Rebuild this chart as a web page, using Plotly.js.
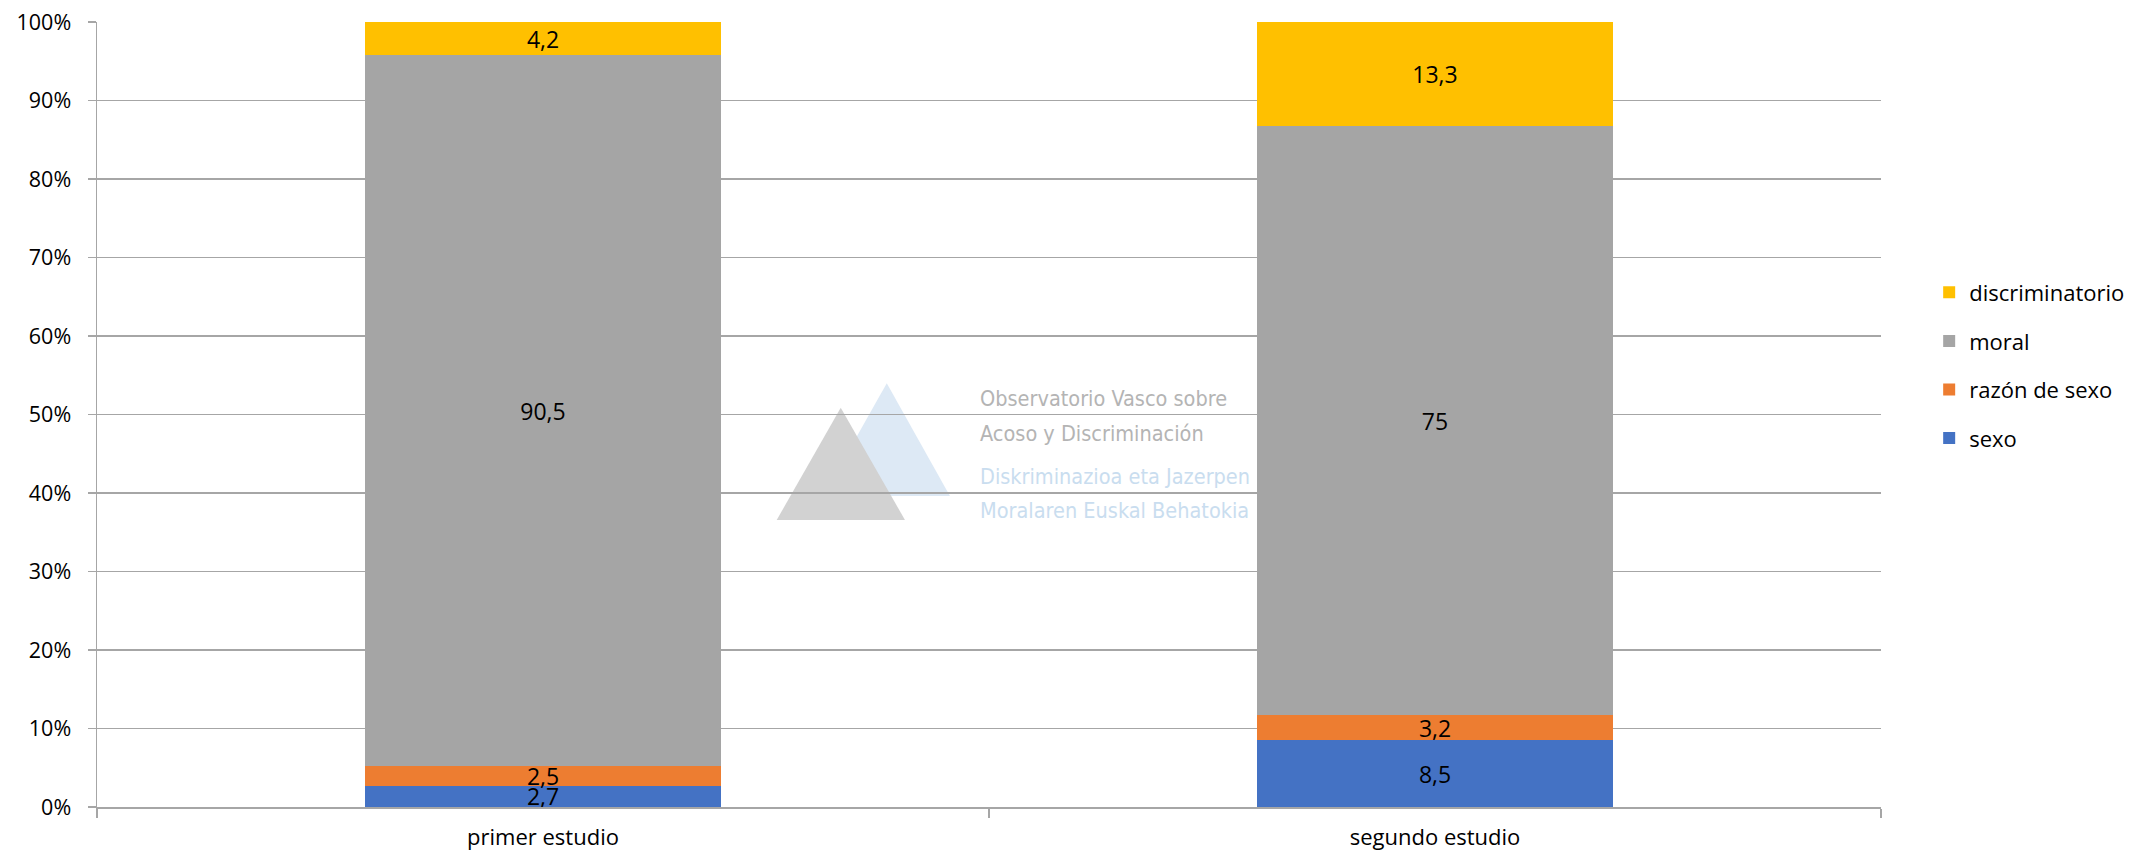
<!DOCTYPE html>
<html>
<head>
<meta charset="utf-8">
<script src="https://cdn.plot.ly/plotly-3.0.1.min.js"></script>
<style>html,body{margin:0;padding:0;background:#fff;}#chart{width:2131px;height:853px;}</style>
</head>
<body>
<div id="chart"></div>
<script>
var categories = ["primer estudio", "segundo estudio"];
var seriesNames = ["sexo", "razón de sexo", "moral", "discriminatorio"];
var sexo = [2.7, 8.5];
var razonDeSexo = [2.5, 3.2];
var moral = [90.5, 75];
var discriminatorio = [4.2, 13.3];
var yTickVals = [0, 10, 20, 30, 40, 50, 60, 70, 80, 90, 100];

var seriesValues = [sexo, razonDeSexo, moral, discriminatorio];
var colors = ["#4472C4", "#ED7D31", "#A5A5A5", "#FFC000"];

function fmt(v) { return String(v).replace(".", ","); }

var font = "'Open Sans', Lato, sans-serif";

var traces = seriesValues.map(function (vals, i) {
  return {
    type: "bar",
    name: seriesNames[i],
    x: categories,
    y: vals,
    text: vals.map(fmt),
    textposition: "inside",
    insidetextanchor: "middle",
    constraintext: "none",
    textangle: 0,
    insidetextfont: { color: "#000", size: 23, family: font },
    textfont: { color: "#000", size: 23, family: font },
    marker: { color: colors[i], line: { width: 0 } },
    legendgroup: "g" + i,
    legendrank: 100 - i,
    hoverinfo: "none"
  };
});

var layout = {
  width: 2131,
  height: 853,
  margin: { l: 97, r: 250, t: 22, b: 46, autoexpand: false },
  paper_bgcolor: "#fff",
  plot_bgcolor: "#fff",
  barmode: "stack",
  barnorm: "percent",
  bargap: 0.6,
  showlegend: true,
  font: { family: font, size: 22, color: "#000" },
  legend: {
    x: 1.027, xanchor: "left",
    y: 0.5624, yanchor: "middle",
    traceorder: "grouped",
    tracegroupgap: 17,
    font: { family: font, size: 22, color: "#000" },
    bgcolor: "rgba(0,0,0,0)"
  },
  xaxis: {
    type: "category",
    showgrid: false,
    showline: true,
    linecolor: "#a6a6a6",
    linewidth: 1.5,
    ticks: "outside",
    tickson: "boundaries",
    ticklen: 9,
    tickcolor: "#a6a6a6",
    tickwidth: 1.5,
    ticklabelstandoff: 10,
    tickfont: { family: font, size: 22, color: "#000" },
    zeroline: false,
    automargin: false
  },
  yaxis: {
    range: [0, 100],
    tickvals: yTickVals,
    ticktext: yTickVals.map(function (v) { return v + "%"; }),
    showgrid: true,
    gridcolor: "#a6a6a6",
    gridwidth: 1.5,
    showline: true,
    linecolor: "#a6a6a6",
    linewidth: 1.5,
    ticks: "outside",
    ticklen: 8,
    tickcolor: "#a6a6a6",
    tickwidth: 1.5,
    ticklabelstandoff: 12,
    tickfont: { family: font, size: 21.5, color: "#000" },
    zeroline: false,
    automargin: false
  },
  shapes: [
    {
      type: "path", xref: "paper", yref: "paper", layer: "below",
      path: "M0.4071,0.3962 L0.4427,0.5397 L0.4781,0.3962 Z",
      fillcolor: "#dde9f5", line: { width: 0 }
    },
    {
      type: "path", xref: "paper", yref: "paper", layer: "below",
      path: "M0.3810,0.3656 L0.4169,0.5087 L0.4529,0.3656 Z",
      fillcolor: "#d2d2d2", line: { width: 0 }
    }
  ],
  annotations: [
    { text: "Observatorio Vasco sobre", color: "#b4b4b4", y: 0.521 },
    { text: "Acoso y Discriminación", color: "#b4b4b4", y: 0.4764 },
    { text: "Diskriminazioa eta Jazerpen", color: "#c9ddef", y: 0.4204 },
    { text: "Moralaren Euskal Behatokia", color: "#c9ddef", y: 0.3783 }
  ].map(function (a) {
    return {
      text: a.text, xref: "paper", yref: "paper", x: 0.4938, y: a.y,
      xanchor: "left", yanchor: "middle", showarrow: false,
      font: { family: "'Liberation Sans Narrow', 'DejaVu Sans Condensed', sans-serif", size: 21.5, color: a.color }
    };
  })
};

Plotly.newPlot("chart", traces, layout, { displayModeBar: false, staticPlot: true });
</script>
</body>
</html>
